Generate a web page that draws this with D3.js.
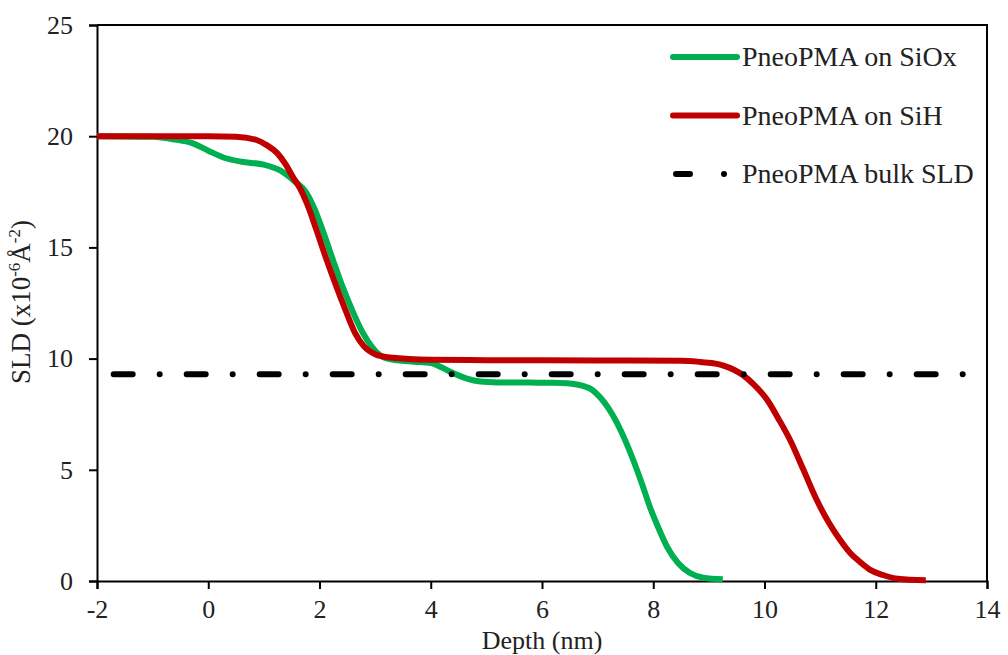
<!DOCTYPE html>
<html>
<head>
<meta charset="utf-8">
<script src="https://cdn.jsdelivr.net/npm/d3@7"></script>
<style>
  body { margin: 0; background: #fff; }
</style>
</head>
<body>
<svg id="chart" width="1008" height="655"></svg>
<script>
// SLD depth profiles
const depthSiOx = [-2, -1, -0.6, -0.3, 0, 0.3, 0.6, 1.0, 1.3, 1.55, 1.75, 1.9, 2.06, 2.24, 2.42, 2.6, 2.78, 2.95, 3.14, 3.4, 3.7, 4.0, 4.2, 4.4, 4.65, 4.89, 5.2, 5.8, 6.2, 6.5, 6.74, 6.9, 7.04, 7.2, 7.35, 7.5, 7.64, 7.8, 7.94, 8.1, 8.25, 8.45, 8.66, 8.9, 9.25]
const sldSiOx = [20, 19.97, 19.85, 19.7, 19.35, 19.02, 18.85, 18.72, 18.45, 17.98, 17.5, 16.8, 15.75, 14.45, 13.2, 12.1, 11.15, 10.5, 10.07, 9.92, 9.86, 9.8, 9.6, 9.35, 9.1, 8.97, 8.93, 8.92, 8.91, 8.88, 8.77, 8.6, 8.27, 7.75, 7.1, 6.3, 5.44, 4.35, 3.33, 2.35, 1.53, 0.8, 0.36, 0.15, 0.08]

const depthSiH = [-2, 0, 0.5, 0.87, 1.05, 1.24, 1.4, 1.52, 1.65, 1.77, 1.95, 2.12, 2.31, 2.48, 2.64, 2.8, 3.0, 3.27, 4, 5, 7, 8.5, 8.84, 9.05, 9.25, 9.45, 9.61, 9.8, 10.05, 10.25, 10.46, 10.7, 10.94, 11.15, 11.36, 11.54, 11.72, 11.9, 12.13, 12.4, 12.9]
const sldSiH = [20, 20, 19.98, 19.83, 19.6, 19.24, 18.7, 18.17, 17.65, 17.0, 15.75, 14.5, 13.2, 12.1, 11.15, 10.55, 10.2, 10.05, 9.95, 9.93, 9.92, 9.9, 9.85, 9.8, 9.7, 9.5, 9.26, 8.85, 8.14, 7.3, 6.34, 5.0, 3.64, 2.65, 1.84, 1.26, 0.85, 0.5, 0.27, 0.1, 0.03]

const depthBulk = [-1.7, 13.75]
const sldBulk = [9.3, 9.3]

const xTicks = [-2, 0, 2, 4, 6, 8, 10, 12, 14]
const yTicks = [0, 5, 10, 15, 20, 25]

const seriesNames = ['PneoPMA on SiOx', 'PneoPMA on SiH', 'PneoPMA bulk SLD']
const seriesColors = ['#00b050', '#c00000', '#000000']

const font = '"Liberation Serif", "Times New Roman", serif'
const margin = {top: 25, right: 21, bottom: 74, left: 97}
const width = 1008, height = 655

const svg = d3.select('#chart')

const x = d3.scaleLinear().domain([-2, 14]).range([margin.left, width - margin.right])
const y = d3.scaleLinear().domain([0, 25]).range([height - margin.bottom, margin.top])

// frame (top + right)
svg.append('path')
    .attr('d', `M${x(-2)},${y(25)}H${x(14)}V${y(0)}`)
    .attr('fill', 'none').attr('stroke', '#000').attr('stroke-width', 2)

let xAxis = svg.append('g')
    .attr('transform', `translate(0,${y(0)})`)
    .call(d3.axisBottom(x).tickValues(xTicks).tickSize(8).tickPadding(11).tickFormat(d3.format('d')))
let yAxis = svg.append('g')
    .attr('transform', `translate(${x(-2)},0)`)
    .call(d3.axisLeft(y).tickValues(yTicks).tickSize(8).tickPadding(16))

;[xAxis, yAxis].forEach(a => {
    a.attr('font-family', font)
    a.select('.domain').attr('stroke', '#000').attr('stroke-width', 2)
    a.selectAll('.tick line').attr('stroke', '#000').attr('stroke-width', 2)
    a.selectAll('.tick text').attr('font-size', 26).attr('fill', '#222')
})
xAxis.selectAll('.tick text').text(d => d < 0 ? '-' + Math.abs(d) : d)

const line = d3.line().x(d => x(d[0])).y(d => y(d[1])).curve(d3.curveMonotoneX)

const series = [
    d3.zip(depthSiOx, sldSiOx),
    d3.zip(depthSiH, sldSiH)
]

series.forEach((s, i) => {
    svg.append('path')
        .datum(s)
        .attr('d', line)
        .attr('fill', 'none')
        .attr('stroke', seriesColors[i])
        .attr('stroke-width', 6)
        .attr('stroke-linejoin', 'round')
})

// bulk SLD dash-dot line
svg.append('path')
    .datum(d3.zip(depthBulk, sldBulk))
    .attr('d', line)
    .attr('fill', 'none')
    .attr('stroke', '#000')
    .attr('stroke-width', 6)
    .attr('stroke-linecap', 'round')
    .attr('stroke-dasharray', '19,27,0,27')

// legend
const legend = svg.append('g').attr('transform', 'translate(673,57)')
seriesNames.forEach((name, i) => {
    let g = legend.append('g').attr('transform', `translate(0,${i * 58.5})`)
    if (i < 2) {
        g.append('line').attr('x1', 0).attr('x2', 64)
            .attr('stroke', seriesColors[i]).attr('stroke-width', 6).attr('stroke-linecap', 'round')
    } else {
        g.append('line').attr('x1', 3).attr('x2', 64)
            .attr('stroke', '#000').attr('stroke-width', 6).attr('stroke-linecap', 'round')
            .attr('stroke-dasharray', '14,34,0,60')
    }
    g.append('text').attr('x', 69).attr('y', 9)
        .attr('font-family', font).attr('font-size', 28).attr('fill', '#222')
        .text(name)
})

// axis titles
svg.append('text')
    .attr('x', (x(-2) + x(14)) / 2).attr('y', 649)
    .attr('text-anchor', 'middle').attr('font-family', font).attr('font-size', 26).attr('fill', '#222')
    .text('Depth (nm)')

let yl = svg.append('text')
    .attr('transform', 'translate(30,302) rotate(-90)')
    .attr('text-anchor', 'middle').attr('font-family', font).attr('font-size', 27).attr('fill', '#222')
yl.append('tspan').text('SLD (x10')
yl.append('tspan').attr('font-size', 17).attr('dy', -10).text('-6')
yl.append('tspan').attr('dy', 10).text('Å')
yl.append('tspan').attr('font-size', 17).attr('dy', -10).text('-2')
yl.append('tspan').attr('dy', 10).text(')')
</script>
</body>
</html>
